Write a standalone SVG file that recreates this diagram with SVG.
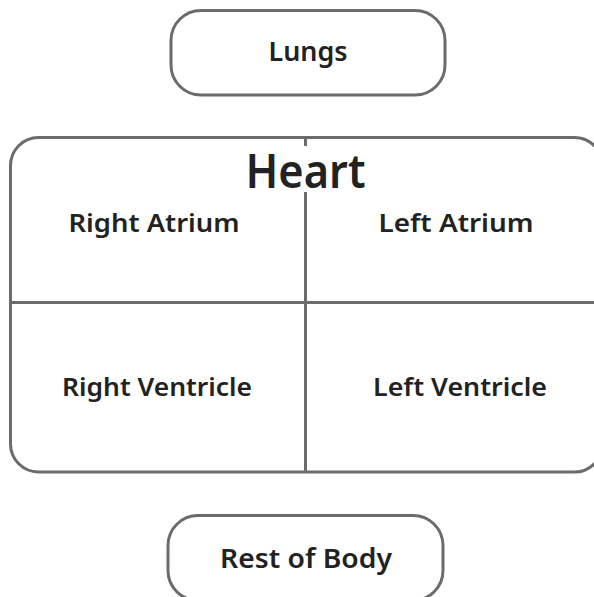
<svg xmlns="http://www.w3.org/2000/svg" width="594" height="597" viewBox="0 0 594 597">
<style>
.box{fill:#fff;stroke:#6b6b6b;stroke-width:3}
.div{stroke:#6b6b6b;stroke-width:3;fill:none}
.lbl{font-family:"Noto Sans","Open Sans","DejaVu Sans",sans-serif;font-weight:600;fill:#222;text-anchor:middle}
</style>
<rect width="594" height="597" fill="#fff"/>
<g id="lungs">
<rect class="box" x="171" y="10.5" width="274" height="84.5" rx="30"/>
<text class="lbl" x="308" y="61" font-size="27" textLength="79" lengthAdjust="spacingAndGlyphs">Lungs</text>
</g>
<g id="heart">
<rect class="box" x="10.5" y="137.5" width="592" height="334.5" rx="28"/>
<g id="dividers">
<line class="div" x1="305.5" y1="137.5" x2="305.5" y2="472"/>
<line class="div" x1="10.5" y1="302.5" x2="602" y2="302.5"/>
</g>
<rect x="243" y="146" width="124" height="46" fill="#fff"/>
<text class="lbl" x="305.5" y="188" font-size="47" font-weight="500" textLength="120" lengthAdjust="spacingAndGlyphs">Heart</text>
</g>
<g id="right-atrium">
<text class="lbl" x="154" y="232" font-size="25" textLength="171" lengthAdjust="spacingAndGlyphs">Right Atrium</text>
</g>
<g id="left-atrium">
<text class="lbl" x="456" y="232" font-size="25" textLength="155" lengthAdjust="spacingAndGlyphs">Left Atrium</text>
</g>
<g id="right-ventricle">
<text class="lbl" x="157" y="396" font-size="26" textLength="190" lengthAdjust="spacingAndGlyphs">Right Ventricle</text>
</g>
<g id="left-ventricle">
<text class="lbl" x="460" y="396" font-size="26" textLength="174" lengthAdjust="spacingAndGlyphs">Left Ventricle</text>
</g>
<g id="rest-of-body">
<rect class="box" x="168" y="515.5" width="275" height="85" rx="30"/>
<text class="lbl" x="306" y="568" font-size="27" textLength="172" lengthAdjust="spacingAndGlyphs">Rest of Body</text>
</g>
<g id="connectors"></g>
</svg>
